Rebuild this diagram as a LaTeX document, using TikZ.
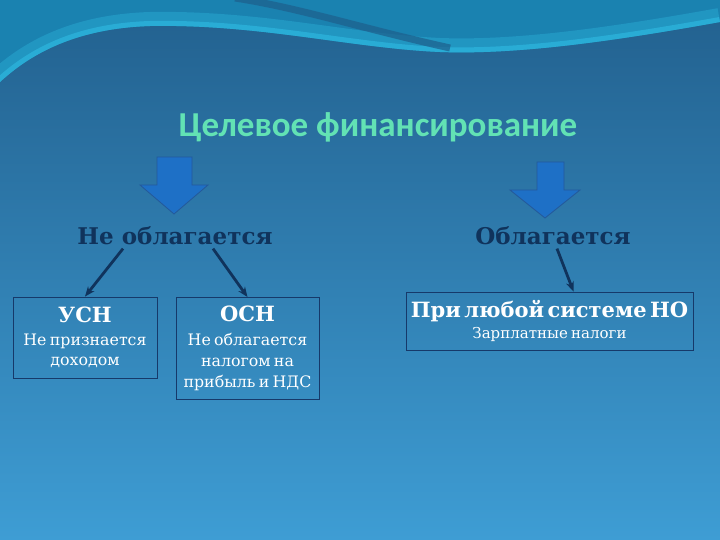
\documentclass[tikz,border=0pt]{standalone}
\usepackage{fontspec}
\setmainfont{DejaVu Serif}
\newfontfamily\titlefont{Carlito}
\usetikzlibrary{arrows.meta,calc}
\definecolor{bgtop}{HTML}{22608E}
\definecolor{bgbot}{HTML}{3E9DD4}
\definecolor{wavecol}{HTML}{1A82B0}
\definecolor{cyanband}{HTML}{2CB4DC}
\definecolor{darkstripe}{HTML}{1E5F8C}
\definecolor{titlegreen}{HTML}{62E2B4}
\definecolor{navy}{HTML}{10335C}
\definecolor{blockfill}{HTML}{1E70C6}
\definecolor{blockline}{HTML}{24599A}
\definecolor{boxline}{HTML}{16396A}
\tikzset{
  headtext/.style={font=\titlefont\bfseries\fontsize{35}{38}\selectfont, text=titlegreen},
  subtext/.style={font=\bfseries\fontsize{23}{28}\selectfont, text=navy},
  infobox/.style={draw=boxline, line width=0.9pt, text=white, align=center, inner sep=2pt},
  blockarrow/.style={fill=blockfill, draw=blockline, line width=0.8pt},
  conn/.style={draw=navy, line width=2.8pt, -{Stealth[length=10pt,width=8pt]}},
}
\begin{document}
\begin{tikzpicture}[x=1pt,y=-1pt]
\useasboundingbox (0,0) rectangle (720,540);
% background
\shade[top color=bgtop, bottom color=bgbot] (0,0) rectangle (720,540);
% top wave
\fill[wavecol] (0,0) -- (0,82) .. controls (40,45) and (90,28) .. (150,26) .. controls (260,24) and (350,48) .. (440,52) .. controls (520,55) and (620,40) .. (720,22) -- (720,0) -- cycle;
\begin{scope}
  \clip (0,0) -- (0,82) .. controls (40,45) and (90,28) .. (150,26) .. controls (260,24) and (350,48) .. (440,52) .. controls (520,55) and (620,40) .. (720,22) -- (720,0) -- cycle;
  \draw[cyanband, opacity=0.4, line width=28pt] (0,82) .. controls (40,45) and (90,28) .. (150,26) .. controls (260,24) and (350,48) .. (440,52) .. controls (520,55) and (620,40) .. (720,22);
  \draw[cyanband, opacity=0.75, line width=10pt] (0,82) .. controls (40,45) and (90,28) .. (150,26) .. controls (260,24) and (350,48) .. (440,52) .. controls (520,55) and (620,40) .. (720,22);
  \draw[darkstripe, opacity=0.7, line width=7pt] (235,-2) .. controls (300,8) and (360,28) .. (450,48);
\end{scope}
% title
\node[headtext] (title) at (378,127) {Целевое финансирование};
% block arrows
\filldraw[blockarrow] (157,157) -- (192,157) -- (192,185) -- (208,185) -- (174,214) -- (140,185) -- (157,185) -- cycle;
\filldraw[blockarrow] (537,162) -- (564,162) -- (564,190) -- (580,190) -- (545,218) -- (510,190) -- (537,190) -- cycle;
% headings
\node[subtext] (non) at (175,236) {Не облагается};
\node[subtext] (tax) at (553,236) {Облагается};
% boxes
\node[infobox, text width=140pt, minimum height=81pt] (usn) at (85,337.5)
  {\bfseries\fontsize{21}{26}\selectfont УСН\par\vspace{3pt}
   \mdseries\fontsize{15.8}{20}\selectfont Не признается\par доходом\par};
\node[infobox, text width=139pt, minimum height=102pt] (osn) at (247.5,348.5)
  {\bfseries\fontsize{21}{26}\selectfont ОСН\par\vspace{3pt}
   \mdseries\fontsize{15.8}{21}\selectfont Не облагается\par налогом на\par прибыль и НДС\par};
\node[infobox, text width=283pt, minimum height=58pt] (any) at (549.5,321)
  {\bfseries\fontsize{21}{25}\selectfont При любой системе НО\par\vspace{4pt}
   \mdseries\fontsize{15}{17}\selectfont Зарплатные налоги\par};
% connectors
\draw[conn] ($(non.south)+(-52,0)$) -- (usn.north);
\draw[conn] ($(non.south)+(38,0)$) -- (osn.north);
\draw[conn] ($(tax.south)+(4,0)$) -- ($(any.north)+(24,0)$);
\end{tikzpicture}
\end{document}
